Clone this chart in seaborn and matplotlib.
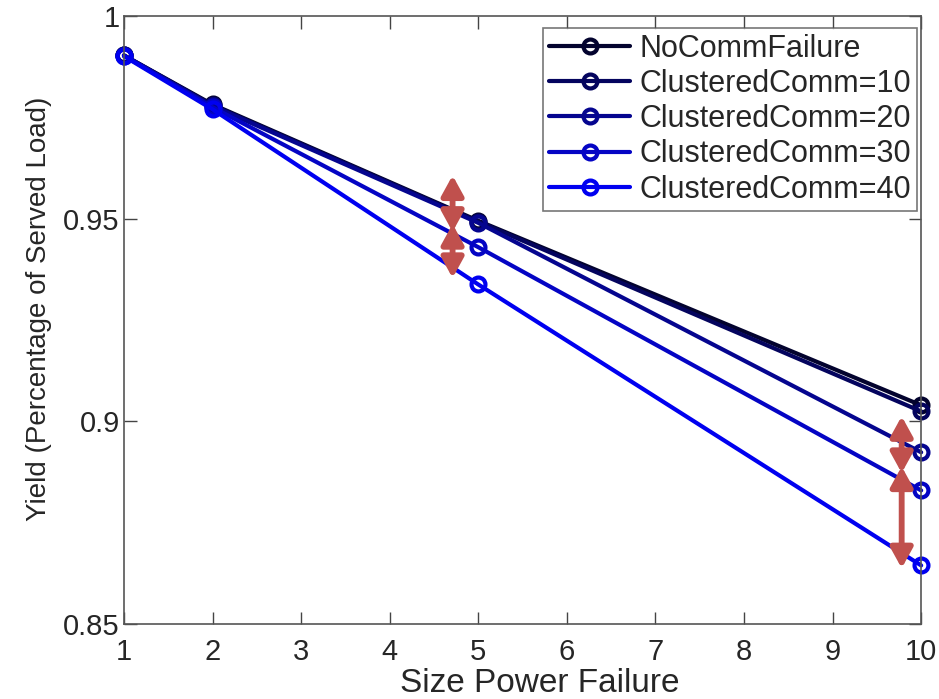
import matplotlib
matplotlib.use("Agg")
import matplotlib.pyplot as plt
import seaborn as sns
import pandas as pd

sizes = [1, 2, 5, 10]
series_names = ["NoCommFailure", "ClusteredComm=10", "ClusteredComm=20",
                "ClusteredComm=30", "ClusteredComm=40"]
no_comm = [0.9903, 0.9782, 0.9495, 0.9040]
clustered_10 = [0.9903, 0.9780, 0.9493, 0.9025]
clustered_20 = [0.9903, 0.9778, 0.9490, 0.8924]
clustered_30 = [0.9902, 0.9775, 0.9430, 0.8830]
clustered_40 = [0.9901, 0.9770, 0.9338, 0.8645]
values = [no_comm, clustered_10, clustered_20, clustered_30, clustered_40]
colors = ["#03032e", "#04045e", "#05058f", "#0404c4", "#0000f0"]

x_ticks = [1, 2, 3, 4, 5, 6, 7, 8, 9, 10]
y_ticks = [0.85, 0.9, 0.95, 1.0]
y_tick_labels = ["0.85", "0.9", "0.95", "1"]

# difference arrows (x, y_start, y_end)
arrow_list = [(4.71, 0.9480, 0.9595), (4.71, 0.9475, 0.9366),
              (9.78, 0.8885, 0.9001), (9.78, 0.8877, 0.8650)]
arrow_extend = 0.0012

sns.set_theme(style="white")
plt.rcParams["font.family"] = ["Liberation Sans", "DejaVu Sans"]

fig = plt.figure(figsize=(9.39, 6.99), dpi=100)
ax = fig.add_axes([0.132, 0.107, 0.849, 0.870])

for name, vals, col in zip(series_names, values, colors):
    d = pd.DataFrame({"x": sizes, "y": vals})
    sns.lineplot(data=d, x="x", y="y", ax=ax, color=col, lw=3.0,
                 marker="o", markersize=10, markerfacecolor="none",
                 markeredgecolor=col, markeredgewidth=3, label=name,
                 clip_on=False)

for x, y0, y1 in arrow_list:
    sgn = 1 if y1 > y0 else -1
    ax.annotate("", xy=(x, y1 + sgn * arrow_extend),
                xytext=(x, y0 - sgn * arrow_extend),
                arrowprops=dict(arrowstyle="<|-|>,head_length=1.0,head_width=0.55",
                                color="#c0504d", lw=4.2, mutation_scale=12,
                                shrinkA=0, shrinkB=0))

ax.set_xlim(1, 10)
ax.set_ylim(0.85, 1.0)
ax.set_xticks(x_ticks)
ax.set_xticklabels([str(t) for t in x_ticks])
ax.set_yticks(y_ticks)
ax.set_yticklabels(y_tick_labels)
ax.tick_params(axis="both", direction="in", length=9, width=1, color="#444444",
               labelsize=21, top=True, right=True, bottom=True, left=True)
ax.tick_params(axis="x", pad=10)
ax.tick_params(axis="y", pad=3)
for s in ax.spines.values():
    s.set_color("#555555")
    s.set_linewidth(1.2)
ax.set_xlabel("Size Power Failure", fontsize=24)
ax.set_ylabel("Yield (Percentage of Served Load)", fontsize=20)
ax.xaxis.set_label_coords(0.521, -0.072)
ax.yaxis.set_label_coords(-0.090, 0.518)

leg = ax.legend(loc="upper right", bbox_to_anchor=(0.995, 0.981),
                fontsize=22, frameon=True, fancybox=False,
                edgecolor="#555555", handlelength=2.65, handletextpad=0.3,
                borderpad=0.2, labelspacing=0.17, borderaxespad=0.0)
leg.get_frame().set_linewidth(1.2)

fig.savefig("out.png", dpi=100)
